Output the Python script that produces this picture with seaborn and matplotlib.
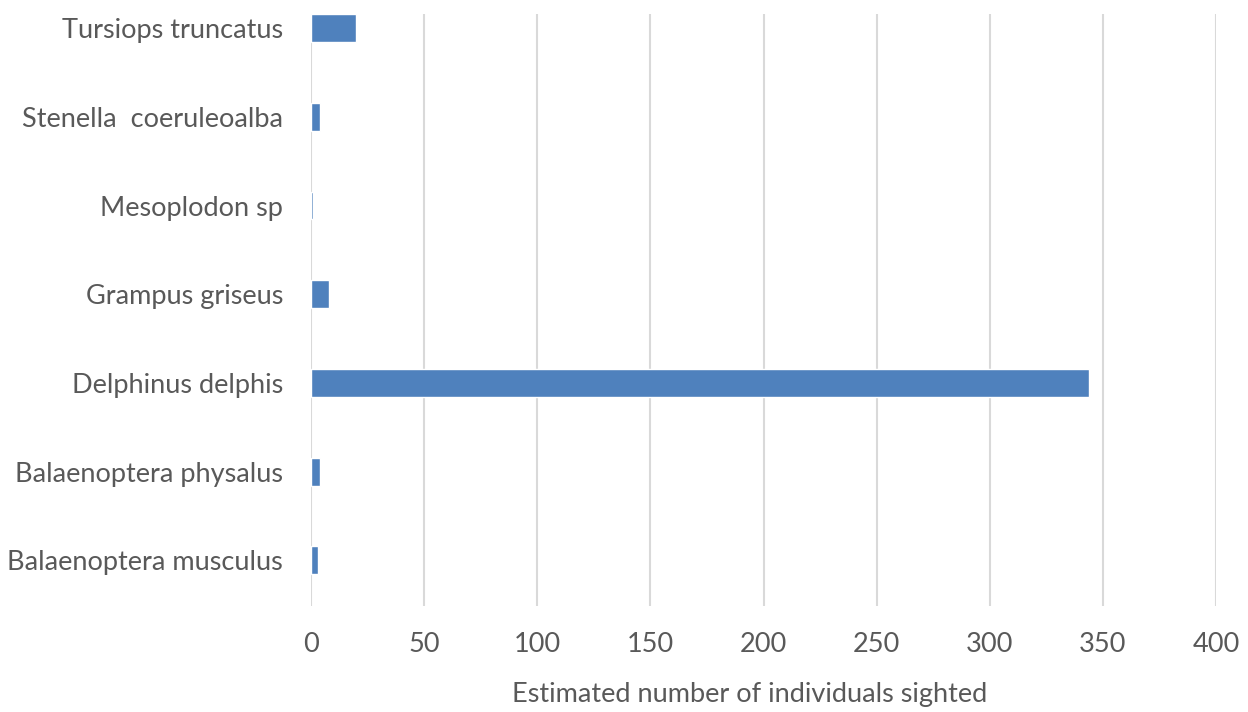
import matplotlib
matplotlib.use("Agg")
import matplotlib.pyplot as plt
import seaborn as sns
import pandas as pd

# Cetacean species and estimated counts (top to bottom)
species = [
    "Tursiops truncatus",
    "Stenella  coeruleoalba",
    "Mesoplodon sp",
    "Grampus griseus",
    "Delphinus delphis",
    "Balaenoptera physalus",
    "Balaenoptera musculus",
]
individuals = [20, 4, 1, 8, 344, 4, 3]
x_ticks = [0, 50, 100, 150, 200, 250, 300, 350, 400]

df = pd.DataFrame({"species": species, "individuals": individuals})

sns.set_theme(style="white")
plt.rcParams["font.family"] = ["Lato", "DejaVu Sans"]

text_color = "#595959"
grid_color = "#d9d9d9"
bar_color = "#4f81bd"

fig = plt.figure(figsize=(12.48, 7.12), dpi=100)
ax = fig.add_axes([311 / 1248, 106 / 712, 905 / 1248, 592 / 712])

sns.barplot(data=df, x="individuals", y="species", orient="h",
            color=bar_color, saturation=1, width=0.315, ax=ax, zorder=3)

ax.set_xlim(0, 400)
ax.set_ylim(6.513, -0.158)
ax.set_xticks(x_ticks)
ax.set_xticklabels([str(t) for t in x_ticks])

ax.grid(axis="x", color=grid_color, linewidth=1.5, zorder=0)
ax.grid(axis="y", visible=False)
ax.set_axisbelow(True)
for s in ax.spines.values():
    s.set_visible(False)

ax.tick_params(axis="both", length=0, labelsize=19.5, labelcolor=text_color)
ax.tick_params(axis="x", pad=19)
ax.tick_params(axis="y", pad=20)

ax.set_ylabel("")
ax.set_xlabel("Estimated number of individuals sighted", fontsize=19.5,
              color=text_color)
ax.xaxis.set_label_coords(0.485, -0.128)

fig.savefig("out.png", dpi=100)
